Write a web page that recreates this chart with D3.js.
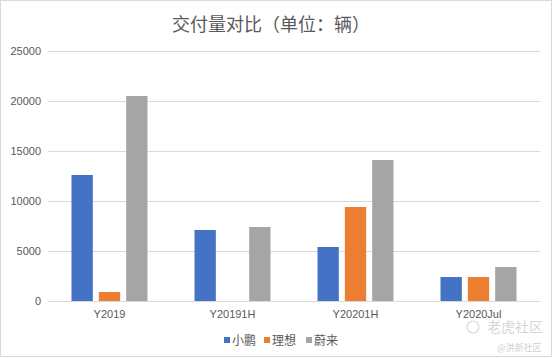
<!DOCTYPE html>
<html><head><meta charset="utf-8">
<script src="https://cdn.jsdelivr.net/npm/d3@7"></script>
<style>
body{margin:0;background:#fff;}
svg{display:block;font-family:"Noto Sans CJK SC","Liberation Sans",sans-serif;}
</style></head>
<body>
<svg id="c" width="554" height="358"></svg>
<script>
const title = "交付量对比（单位：辆）";
const categories = ["Y2019", "Y20191H", "Y20201H", "Y2020Jul"];
const seriesNames = ["小鹏", "理想", "蔚来"];
const xpeng = [12600, 7100, 5400, 2400];
const lixiang = [900, 0, 9400, 2400];
const nio = [20500, 7400, 14100, 3400];
const yTicks = [0, 5000, 10000, 15000, 20000, 25000];
const colors = ["#4472C4", "#ED7D31", "#A5A5A5"];

const seriesValues = [xpeng, lixiang, nio];
const svg = d3.select("#c");
const W = 554, H = 358;
const m = {left: 48, right: 14, top: 51, bottom: 57};

svg.append("rect").attr("x", 0.5).attr("y", 0.5).attr("width", W - 3).attr("height", H - 2)
  .attr("fill", "#fff").attr("stroke", "#D9D9D9");

const x = d3.scaleBand().domain(categories).range([m.left, W - m.right]);
const y = d3.scaleLinear().domain([0, 25000]).range([H - m.bottom, m.top]);
const xs = d3.scaleBand().domain(d3.range(seriesNames.length)).range([0, 76]).paddingInner(0.22);

// grid
const yAxis = d3.axisLeft(y).tickValues(yTicks).tickSize(-(W - m.left - m.right)).tickFormat(d3.format("d"));
const ga = svg.append("g").attr("transform", `translate(${m.left},0)`).call(yAxis);
ga.select(".domain").remove();
ga.selectAll(".tick line").attr("stroke", "#D9D9D9").attr("stroke-width", 1);
ga.selectAll(".tick text").attr("fill", "#595959").attr("font-size", 11)
  .attr("font-family", "'Liberation Sans',sans-serif").attr("x", -7);

// bars
const groups = svg.append("g").selectAll("g").data(categories).join("g")
  .attr("transform", d => `translate(${x(d) + x.bandwidth() / 2 - 38},0)`);
groups.selectAll("rect")
  .data((d, i) => seriesValues.map((s, k) => ({k, v: s[i]})).filter(e => e.v > 0))
  .join("rect")
  .attr("x", d => xs(d.k))
  .attr("width", xs.bandwidth())
  .attr("y", d => y(d.v))
  .attr("height", d => y(0) - y(d.v))
  .attr("fill", d => colors[d.k]);

// x axis
const xAxis = d3.axisBottom(x).tickSize(0).tickPadding(9);
const gx = svg.append("g").attr("transform", `translate(0,${H - m.bottom})`).call(xAxis);
gx.select(".domain").attr("stroke", "#D9D9D9");
gx.selectAll(".tick text").attr("fill", "#595959").attr("font-size", 11)
  .attr("font-family", "'Liberation Sans',sans-serif");

// title
svg.append("text").attr("x", 271).attr("y", 31).attr("text-anchor", "middle")
  .attr("font-size", 18).attr("fill", "#595959").text(title);

// legend
const legendX = [224, 264, 306];
const lg = svg.append("g").selectAll("g").data(seriesNames).join("g")
  .attr("transform", (d, i) => `translate(${legendX[i]},341)`);
lg.append("rect").attr("x", 0).attr("y", -4).attr("width", 6).attr("height", 6)
  .attr("fill", (d, i) => colors[i]);
lg.append("text").attr("x", 8).attr("y", 4).attr("font-size", 12).attr("fill", "#595959").text(d => d);

// watermark
svg.append("circle").attr("cx", 473).attr("cy", 327).attr("r", 6).attr("fill", "none").attr("stroke", "#DADADA").attr("stroke-width", 1.2);
svg.append("text").attr("x", 487).attr("y", 332).attr("font-size", 14).attr("fill", "#D6D6D6").text("老虎社区");
svg.append("text").attr("x", 497).attr("y", 351).attr("font-size", 9).attr("fill", "#CFCFCF").text("@洪新社区");
</script>
</body></html>
